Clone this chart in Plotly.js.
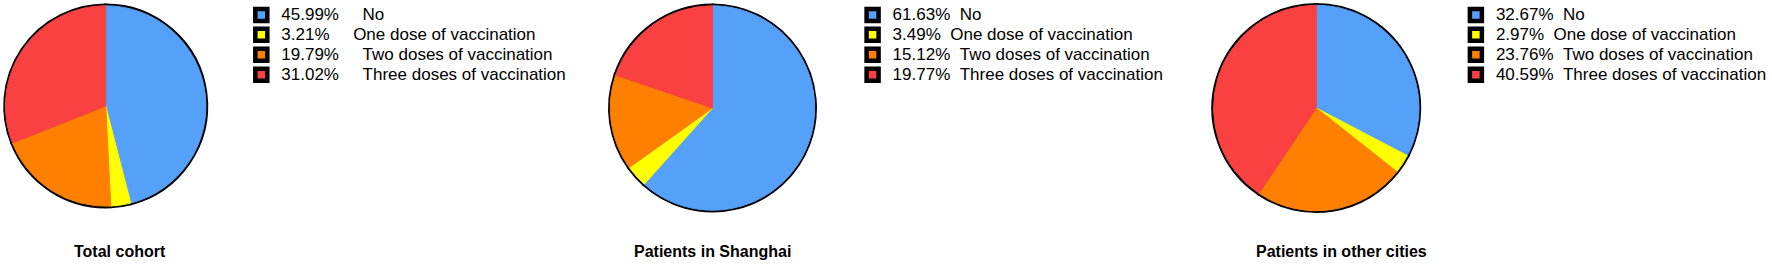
<!DOCTYPE html>
<html>
<head>
<meta charset="utf-8">
<script src="https://cdn.plot.ly/plotly-3.0.1.min.js"></script>
<style>html,body{margin:0;padding:0;background:#fff;}</style>
</head>
<body>
<div id="chart" style="width:1772px;height:269px;"></div>
<script>
// ---- data ----
const categories = ["No", "One dose of vaccination", "Two doses of vaccination", "Three doses of vaccination"];
const groupTitles = ["Total cohort", "Patients in Shanghai", "Patients in other cities"];
const totalCohort = [45.99, 3.21, 19.79, 31.02];
const shanghai = [61.63, 3.49, 15.12, 19.77];
const otherCities = [32.67, 2.97, 23.76, 40.59];

// ---- styling / layout config ----
const sliceColors = ["#55A1FA", "#FFFF00", "#FF8000", "#FA4141"];
const W = 1772, H = 269;
const groups = [totalCohort, shanghai, otherCities];
const labelGaps = [5, 2, 2];
const pieBoxes = [{cx: 106, cy: 106, d: 201}, {cx: 714.5, cy: 108, d: 205}, {cx: 1320, cy: 108, d: 206}];
const legendLeft = [242, 855, 1460];
const titleCenters = [120, 715, 1345];
const fontFam = "Arial, 'Liberation Sans', sans-serif";

const traces = [];
const layout = {
  width: W, height: H,
  margin: {l: 0, r: 0, t: 0, b: 0},
  paper_bgcolor: "#fff",
  showlegend: true,
  annotations: []
};

groups.forEach((vals, i) => {
  const b = pieBoxes[i];
  const domain = {
    x: [(b.cx - b.d / 2) / W, (b.cx + b.d / 2) / W],
    y: [(H - b.cy - b.d / 2) / H, (H - b.cy + b.d / 2) / H]
  };
  const gap = "\u00a0".repeat(labelGaps[i]);
  const labels = categories.map((c, j) =>
    `<span style="font-size:17px">${vals[j].toFixed(2)}%${gap}${c}</span>`);
  const legendName = i === 0 ? "legend" : "legend" + (i + 1);
  const common = {
    type: "pie", values: vals, labels: labels, sort: false,
    direction: "clockwise", rotation: 0, textinfo: "none",
    hoverinfo: "label", domain: domain, legend: legendName
  };
  // bottom pie: supplies the black outline and the legend swatches
  traces.push(Object.assign({}, common, {
    marker: {colors: sliceColors, line: {color: "#000", width: 4.5}},
    showlegend: true
  }));
  // top pie: covers the inner separator lines
  traces.push(Object.assign({}, common, {
    marker: {colors: sliceColors, line: {color: sliceColors, width: 1}},
    showlegend: false
  }));
  layout[legendName] = {
    x: legendLeft[i] / W, xanchor: "left",
    y: 1, yanchor: "top",
    bgcolor: "rgba(0,0,0,0)", borderwidth: 0,
    font: {family: fontFam, size: 13, color: "#000"},
    traceorder: "normal"
  };
  layout.annotations.push({
    text: groupTitles[i], xref: "paper", yref: "paper",
    x: titleCenters[i] / W, xanchor: "center",
    y: (H - 251) / H, yanchor: "middle",
    showarrow: false,
    font: {family: fontFam, size: 16, color: "#000", weight: "bold"}
  });
});

Plotly.newPlot("chart", traces, layout, {displayModeBar: false, responsive: false});
</script>
</body>
</html>
